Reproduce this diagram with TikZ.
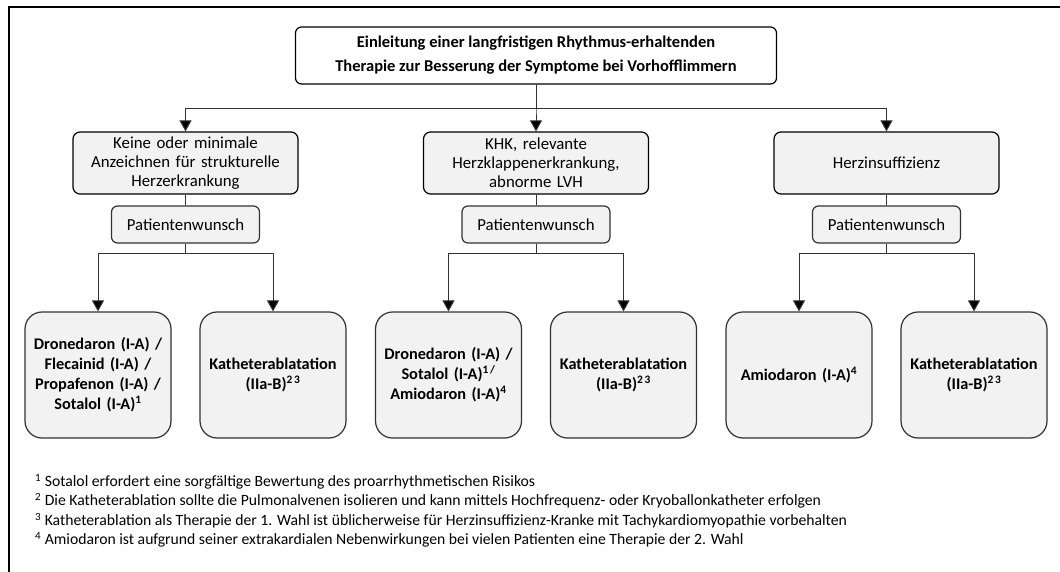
\documentclass[tikz,border=0pt]{standalone}
\usepackage{fontspec}
\setmainfont{Carlito}
\usetikzlibrary{arrows.meta}
\definecolor{boxgray}{RGB}{242,242,242}
\definecolor{linegray}{RGB}{50,50,50}

\tikzset{
    titlebox/.style={draw,rounded corners=6pt,line width=1.2pt,fill=white,minimum width=481pt,minimum height=57pt,align=center,font=\bfseries\fontsize{16.5}{24}\selectfont},
    group/.style={draw,rounded corners=7pt,line width=1.2pt,fill=boxgray,inner sep=4pt,text width=217pt,minimum height=62pt,align=center,font=\fontsize{16.8}{19.2}\selectfont},
    wish/.style={draw,rounded corners=6pt,line width=1.2pt,fill=boxgray,minimum width=148pt,minimum height=37pt,font=\fontsize{16.8}{19.2}\selectfont},
    drug/.style={draw,rounded corners=17pt,line width=1.2pt,fill=boxgray,inner sep=4pt,text width=138pt,minimum height=126pt,align=center,font=\bfseries\fontsize{16.3}{20}\selectfont},
    notes/.style={inner sep=0pt,align=left,font=\fontsize{15.7}{19.4}\selectfont},
    conn/.style={draw=linegray,line width=1pt},
    arrow/.style={conn,-{Triangle[length=11pt,width=12pt,fill=black]}}
    }

\begin{document}
\begin{tikzpicture}[x=1pt,y=1pt,
    level 1/.style={sibling distance=350.5pt,level distance=107.5pt,
        edge from parent path={(\tikzparentnode.south) -- ++(0,-24) -| (\tikzchildnode.north)},
        edge from parent/.style={draw,arrow}},
    level 2/.style={level distance=61.5pt,
        edge from parent path={(\tikzparentnode.south) -- (\tikzchildnode.north)},
        edge from parent/.style={draw,conn}},
    level 3/.style={sibling distance=175pt,level distance=150.5pt,
        edge from parent path={(\tikzparentnode.south) -- ++(0,-10) -| (\tikzchildnode.north)},
        edge from parent/.style={draw,arrow}}]
                \useasboundingbox (0,0) rectangle (1060,-572);
                \draw[line width=2pt] (8.5,-572) -- (8.5,-7) -- (1060,-7);
                % The Tree
                \node(start)[titlebox] at (536,-55.5){Einleitung einer langfristigen Rhythmus-erhaltenden\\Therapie zur Besserung der Symptome bei Vorhofflimmern}
                child{node(minimal)[group]{Keine oder minimale\\Anzeichnen für strukturelle\\Herzerkrankung}
                    child{node(wish1)[wish]{Patientenwunsch}
                        child{node(drugs1)[drug]{Dronedaron (I-A) /\\Flecainid (I-A) /\\Propafenon (I-A) /\\Sotalol (I-A)\textsuperscript{1}}}
                        child{node(ablation1)[drug]{Katheterablatation\\(IIa-B)\textsuperscript{2\hspace{0.15em}3}}}
                    }
                }
                child{node(khk)[group]{KHK, relevante\\Herzklappenerkrankung,\\abnorme LVH}
                    child{node(wish2)[wish]{Patientenwunsch}
                        child{node(drugs2)[drug]{Dronedaron (I-A) /\\Sotalol (I-A)\textsuperscript{1\hspace{0.15em}/}\\Amiodaron (I-A)\textsuperscript{4}}}
                        child{node(ablation2)[drug]{Katheterablatation\\(IIa-B)\textsuperscript{2\hspace{0.15em}3}}}
                    }
                }
                child{node(insuff)[group]{Herzinsuffizienz}
                    child{node(wish3)[wish]{Patientenwunsch}
                        child{node(drugs3)[drug]{Amiodaron (I-A)\textsuperscript{4}}}
                        child{node(ablation3)[drug]{Katheterablatation\\(IIa-B)\textsuperscript{2\hspace{0.15em}3}}}
                    }
                };
                % Footnotes
                \node(notes)[notes,anchor=north west] at (35,-474){\textsuperscript{1} Sotalol erfordert eine sorgfältige Bewertung des proarrhythmetischen Risikos\\
                    \textsuperscript{2} Die Katheterablation sollte die Pulmonalvenen isolieren und kann mittels Hochfrequenz- oder Kryoballonkatheter erfolgen\\
                    \textsuperscript{3} Katheterablation als Therapie der 1. Wahl ist üblicherweise für Herzinsuffizienz-Kranke mit Tachykardiomyopathie vorbehalten\\
                    \textsuperscript{4} Amiodaron ist aufgrund seiner extrakardialen Nebenwirkungen bei vielen Patienten eine Therapie der 2. Wahl};
            \end{tikzpicture}
\end{document}
